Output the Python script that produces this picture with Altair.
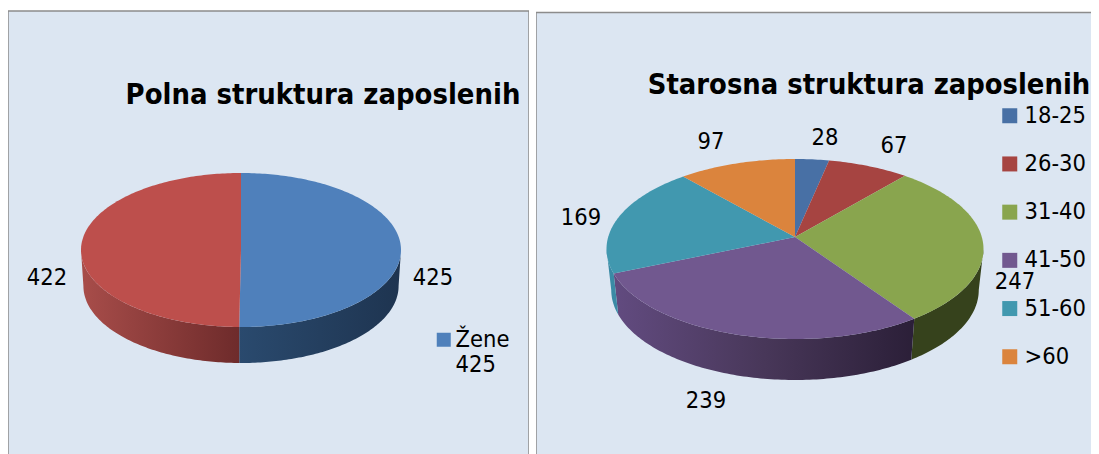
import math
import altair as alt

# ---- values ----
sex_names = ["Žene", "Muškarci"]
sex_values = [425, 422]
sex_colors = ["#4f80bb", "#bd4f4c"]

age_names = ["18-25", "26-30", "31-40", "41-50", "51-60", ">60"]
age_values = [28, 67, 247, 239, 169, 97]
age_colors = ["#4870a5", "#a64441", "#89a54e", "#71588f", "#4198af", "#db843d"]

sex_title = "Polna struktura zaposlenih"
age_title = "Starosna struktura zaposlenih"

# label placement (panel pixels)
sex_label_x = [425, 39]
sex_label_y = [270, 270]
age_label_x = [289, 358, 479, 170, 45, 175]
age_label_y = [130, 138, 274, 393, 210, 134]

# side-wall shading, left to right
sex_wall = [["#2a4a6e", "#1e3450"], ["#a84d4a", "#6e2b2b"]]
age_wall = [["#36421c", "#36421c"], ["#36421c", "#36421c"], ["#36421c", "#36421c"],
            ["#624b80", "#483759", "#2b1f38"], ["#3a8aa5", "#3a8aa5"], ["#db843d", "#db843d"]]

PANEL = "#dce6f2"
EDGE = "#8c8c8c"
FONT = "DejaVu Sans Condensed"
PROJ = dict(type="identity", scale=1, translate=[0, 0])


def point(t, g):
    u, v = math.sin(t), math.cos(t)
    d = 1 + g["p"] * v
    return g["cx"] + g["a"] * u / d, g["cy"] - g["b"] * v / d


def arc(t0, t1, g):
    n = max(2, int(abs(t1 - t0) * 60))
    return [point(t0 + (t1 - t0) * i / n, g) for i in range(n + 1)]


def feature(ring, cat):
    ring = [[round(x, 2), round(y, 2)] for x, y in ring]
    ring.append(ring[0])
    return {"type": "Feature", "properties": {"cat": cat},
            "geometry": {"type": "Polygon", "coordinates": [ring]}}


def frame(box, outline):
    x0, y0, x1, y1 = box
    fill = alt.Chart(alt.Data(values=[feature([(x0, y0), (x1, y0), (x1, y1), (x0, y1)], "panel")])) \
        .mark_geoshape(fill=PANEL, strokeWidth=0, opacity=1).project(**PROJ)
    line = alt.Chart(alt.Data(values=[{
        "type": "Feature", "properties": {"cat": "edge"},
        "geometry": {"type": "LineString", "coordinates": outline}}])) \
        .mark_geoshape(filled=False, stroke=EDGE, strokeWidth=1.5).project(**PROJ)
    return [fill, line]


def pie(values, names, colors, walls, g, title, title_xy, title_size,
        label_x, label_y, legend):
    total = sum(values)
    edges = [0.0]
    for v in values:
        edges.append(edges[-1] + v / total * 2 * math.pi)
    right = math.acos(-g["p"])
    left = 2 * math.pi - right

    layers = []
    for i, name in enumerate(names):
        a, b = max(edges[i], right), min(edges[i + 1], left)
        if a >= b:
            continue
        top = arc(a, b, g)
        low = [(g["cx"] + (x - g["cx"]) * g["shrink"], y + g["depth"]) for x, y in top]
        stops = [alt.GradientStop(color=c, offset=k / (len(walls[i]) - 1))
                 for k, c in enumerate(walls[i])]
        layers.append(
            alt.Chart(alt.Data(values=[feature(top + low[::-1], name)]))
            .mark_geoshape(
                fill=alt.Gradient(gradient="linear", stops=stops, x1=0, x2=1, y1=0, y2=0),
                strokeWidth=0, opacity=1)
            .project(**PROJ)
        )
    faces = [feature([(g["cx"], g["cy"])] + arc(edges[i], edges[i + 1], g), n)
             for i, n in enumerate(names)]
    layers.append(
        alt.Chart(alt.Data(values=faces))
        .mark_geoshape(strokeWidth=0, opacity=1)
        .encode(color=alt.Color("properties.cat:N",
                                scale=alt.Scale(domain=names, range=colors),
                                legend=legend))
        .project(**PROJ)
    )
    labels = [{"t": str(v), "lon": x, "lat": y} for v, x, y in zip(values, label_x, label_y)]
    layers.append(
        alt.Chart(alt.Data(values=labels))
        .mark_text(font=FONT, fontSize=23.5, color="#000000", align="center", baseline="middle")
        .encode(longitude="lon:Q", latitude="lat:Q", text="t:N")
        .project(**PROJ)
    )
    layers.append(
        alt.Chart(alt.Data(values=[{"t": title, "lon": title_xy[0], "lat": title_xy[1]}]))
        .mark_text(font=FONT, fontSize=title_size, fontWeight="bold", color="#000000",
                   align="center", baseline="middle")
        .encode(longitude="lon:Q", latitude="lat:Q", text="t:N")
        .project(**PROJ)
    )
    return layers


sex_geo = dict(cx=233, cy=242, a=160, b=77, p=0.0, depth=36, shrink=0.985)
age_geo = dict(cx=259, cy=229, a=186.8, b=88.4, p=0.1333, depth=41, shrink=0.975)

sex_legend = alt.Legend(
    title=None, orient="none", legendX=424, legendY=320, values=[sex_names[0]],
    symbolType="square", symbolSize=196, symbolStrokeWidth=0, padding=0, labelOffset=0,
    labelFont=FONT, labelFontSize=23.5, labelColor="#000000", labelLimit=200,
    labelExpr=f"[datum.label, '{sex_values[0]}']",
)
age_legend = alt.Legend(
    title=None, orient="none", legendX=462, legendY=96, rowPadding=23.2, labelOffset=3,
    symbolType="square", symbolSize=225, symbolStrokeWidth=0, padding=0,
    labelFont=FONT, labelFontSize=23.5, labelColor="#000000", labelLimit=200,
)

left = alt.layer(*frame((0, 3, 521, 446), [[0, 446], [0, 3], [521, 3], [521, 446]]),
                 *pie(sex_values, sex_names, sex_colors, sex_wall, sex_geo,
                      sex_title, (315, 87), 28.9, sex_label_x, sex_label_y, sex_legend)
                 ).properties(width=521, height=446)
right = alt.layer(*frame((0, 4.5, 555, 446), [[0, 446], [0, 4.5], [555, 4.5]]),
                  *pie(age_values, age_names, age_colors, age_wall, age_geo,
                       age_title, (333, 77), 28.8, age_label_x, age_label_y, age_legend)
                  ).properties(width=555, height=446)

chart = (
    alt.hconcat(left, right, spacing=7, padding=0)
    .resolve_scale(color="independent")
    .configure_view(stroke=None)
)
chart.save("out.html", embed_options={"renderer": "svg", "actions": False})
